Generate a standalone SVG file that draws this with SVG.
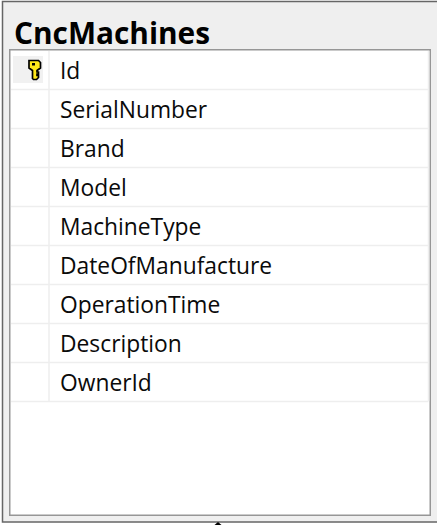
<svg xmlns="http://www.w3.org/2000/svg" width="437" height="525" viewBox="0 0 437 525">
<style>
.t{font-family:"Open Sans","Noto Sans","Liberation Sans",sans-serif;font-size:22.8px;fill:#0a0a0a}
.s{stroke:#eeeeee;stroke-width:1.5;fill:none}
</style>
<rect width="437" height="525" fill="#fff"/>
<g id="table">
<rect x="2.5" y="1.5" width="440" height="520.5" fill="#efefef" stroke="#666" stroke-width="1.5"/>
<text x="14" y="44" style="font-family:'Open Sans','Noto Sans',sans-serif;font-size:29.8px;font-weight:700;fill:#000">CncMachines</text>
<rect x="9.75" y="49.75" width="420.5" height="465.5" fill="#fff" stroke="#969696" stroke-width="1.5"/>
</g>
<g id="grid">
<path class="s" d="M49 51V401M428.500 51V401M11 89.500H428.500M11 128.500H428.500M11 167.500H428.500M11 206.500H428.500M11 245.500H428.500M11 284.500H428.500M11 323.500H428.500M11 362.500H428.500M11 401.500H428.500"/>
<rect x="13" y="56" width="30" height="27" fill="#f1f1f1"/>
</g>
<g id="key">
<path d="M29 60.500h9.500l2 2v5.500l-3.500 2.500v1.500h1.500v2h-1.500v1.500h1.500v2l-2 2h-3l-1-1v-8l-3.500-2.500v-5.500z" fill="#ffe81a" stroke="#000" stroke-width="1.700"/>
<rect x="32" y="63" width="3" height="2.500" fill="#000"/>
</g>
<g id="row-id"><text class="t" x="60" y="79">Id</text></g>
<g id="row-serialnumber"><text class="t" x="60" y="118">SerialNumber</text></g>
<g id="row-brand"><text class="t" x="60" y="157">Brand</text></g>
<g id="row-model"><text class="t" x="60" y="196">Model</text></g>
<g id="row-machinetype"><text class="t" x="60" y="235">MachineType</text></g>
<g id="row-dateofmanufacture"><text class="t" x="60" y="274">DateOfManufacture</text></g>
<g id="row-operationtime"><text class="t" x="60" y="313">OperationTime</text></g>
<g id="row-description"><text class="t" x="60" y="352">Description</text></g>
<g id="row-ownerid"><text class="t" x="60" y="391">OwnerId</text></g>
<path id="marker" d="M218 522l3.500 3h-7z" fill="#000"/>
</svg>
